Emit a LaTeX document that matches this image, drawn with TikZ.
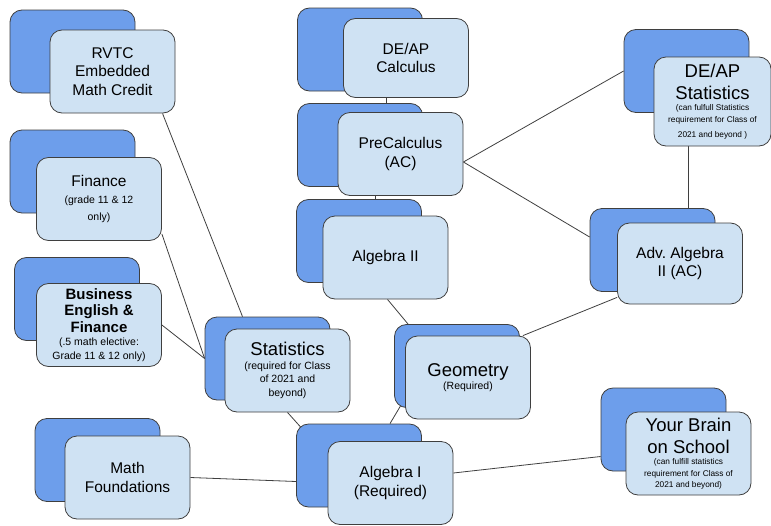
\documentclass[tikz,border=0pt]{standalone}
\usepackage{fontspec}
\setmainfont{Liberation Sans}
\usepackage{tikz}
\usetikzlibrary{calc}
\usetikzlibrary{backgrounds}

\definecolor{backblue}{HTML}{6D9EEB}
\definecolor{frontblue}{HTML}{CFE2F3}
\definecolor{edgegray}{HTML}{3F3F3F}

\newcommand{\bigsz}{\fontsize{18.5}{22}\selectfont}
\newcommand{\smsz}{\fontsize{10.5}{13.5}\selectfont}
\newcommand{\tinysz}{\fontsize{8.3}{11.5}\selectfont}

\tikzset{
  backbox/.style={draw=edgegray, fill=backblue, rounded corners=12pt, minimum width=125pt, minimum height=83pt, inner sep=0pt, line width=0.8pt},
  frontbox/.style={draw=edgegray, fill=frontblue, rounded corners=12pt, minimum width=125pt, minimum height=83pt, inner sep=0pt, line width=0.8pt, text width=121pt, align=flush center, font=\fontsize{15.5}{18.5}\selectfont},
  link/.style={draw=edgegray, line width=0.8pt}
}

\begin{document}
\begin{tikzpicture}[x=1pt,y=-1pt]
        \useasboundingbox (0,0) rectangle (771,525); % page size
        % back boxes
        \node[backbox] (rvtcB) at (72.5,51.5) {};
        \node[backbox] (finB) at (72.5,171.5) {};
        \node[backbox] (busB) at (77,299) {};
        \node[backbox] (statsB) at (267.5,358.5) {};
        \node[backbox] (mathB) at (97.5,460) {};
        \node[backbox] (algIB) at (359,465.5) {};
        \node[backbox] (geoB) at (457,366) {};
        \node[backbox] (calcB) at (360,49.5) {};
        \node[backbox] (preB) at (360,145) {};
        \node[backbox] (algIIB) at (359,241) {};
        \node[backbox] (apstatB) at (686.5,71) {};
        \node[backbox] (advB) at (652.5,250) {};
        \node[backbox] (brainB) at (663.5,429.5) {};
        % front boxes
        \node[frontbox] (rvtc) at (112.5,71.5) {RVTC\\Embedded\\Math Credit};
        \node[frontbox] (fin) at (99,199) {Finance\par{\fontsize{10.5}{17}\selectfont (grade 11 \& 12\\only)\par}};
        \node[frontbox] (bus) at (99,325) {{\fontsize{15}{16.5}\selectfont\bfseries Business\\English \&\\Finance\par}{\smsz (.5 math elective:\\Grade 11 \& 12 only)\par}};
        \node[frontbox] (stats) at (287.5,370.5) {{\bigsz Statistics\par}{\smsz (required for Class\\of 2021 and\\beyond)\par}};
        \node[frontbox] (math) at (127.5,477.5) {Math\\Foundations};
        \node[frontbox] (algI) at (390.5,483) {Algebra I\\(Required)};
        \node[frontbox] (geo) at (468,377.5) {{\bigsz Geometry\par}{\smsz (Required)\par}};
        \node[frontbox, minimum height=79pt] (calc) at (406,58) {DE/AP\\Calculus};
        \node[frontbox] (pre) at (400.5,154) {PreCalculus\\(AC)};
        \node[frontbox] (algII) at (385.5,257.5) {Algebra II};
        \node[frontbox, minimum width=117pt, text width=113pt, minimum height=89pt] (apstat) at (712.5,101.5) {{\bigsz DE/AP\\Statistics\par}{\tinysz (can fulfull Statistics\\requirement for Class of\\[4pt]2021 and beyond )\par}};
        \node[frontbox, minimum height=81pt] (adv) at (680,263.5) {Adv.\ Algebra\\II (AC)};
        \node[frontbox] (brain) at (688.5,453.5) {{\bigsz Your Brain\\on School\par}{\tinysz (can fulfill statistics\\requirement for Class of\\2021 and beyond)\par}};
        % links
        \begin{scope}[on background layer]
        \draw[link] ($(rvtc.south)+(50,0)$) -- ($(statsB.north)+(-25,0)$);
        \draw[link] ($(fin.east)+(0,35)$) -- (statsB.west);
        \draw[link] (bus.east) -- (statsB.west);
        \draw[link] (stats.south) -- ($(algIB.north west)+(5,4)$);
        \draw[link] (math.east) -- ($(algIB.west)+(0,16)$);
        \draw[link] ($(algI.east)+(0,-10)$) -- ($(brainB.west)+(0,27)$);
        \draw[link] ($(algIB.north)+(31,0)$) -- ($(geoB.south west)+(7,-3)$);
        \draw[link] ($(geoB.north west)+(14,0)$) -- ($(algII.south)+(2,0)$);
        \draw[link] ($(geo.north east)+(-8,0)$) -- ($(adv.south west)+(0,-7)$);
        \draw[link] ($(algIIB.north)+(16,0)$) -- ($(pre.south)+(-25.5,0)$);
        \draw[link] ($(preB.north)+(26,0)$) -- ($(calc.south)+(-20,0)$);
        \draw[link] ($(pre.east)+(0,8)$) -- (apstatB.west);
        \draw[link] ($(pre.east)+(0,8)$) -- ($(advB.west)+(0,-13)$);
        \draw[link] ($(apstat.south)+(-24.5,0)$) -- ($(advB.north)+(35.5,0)$);
        \end{scope}
\end{tikzpicture}
\end{document}
